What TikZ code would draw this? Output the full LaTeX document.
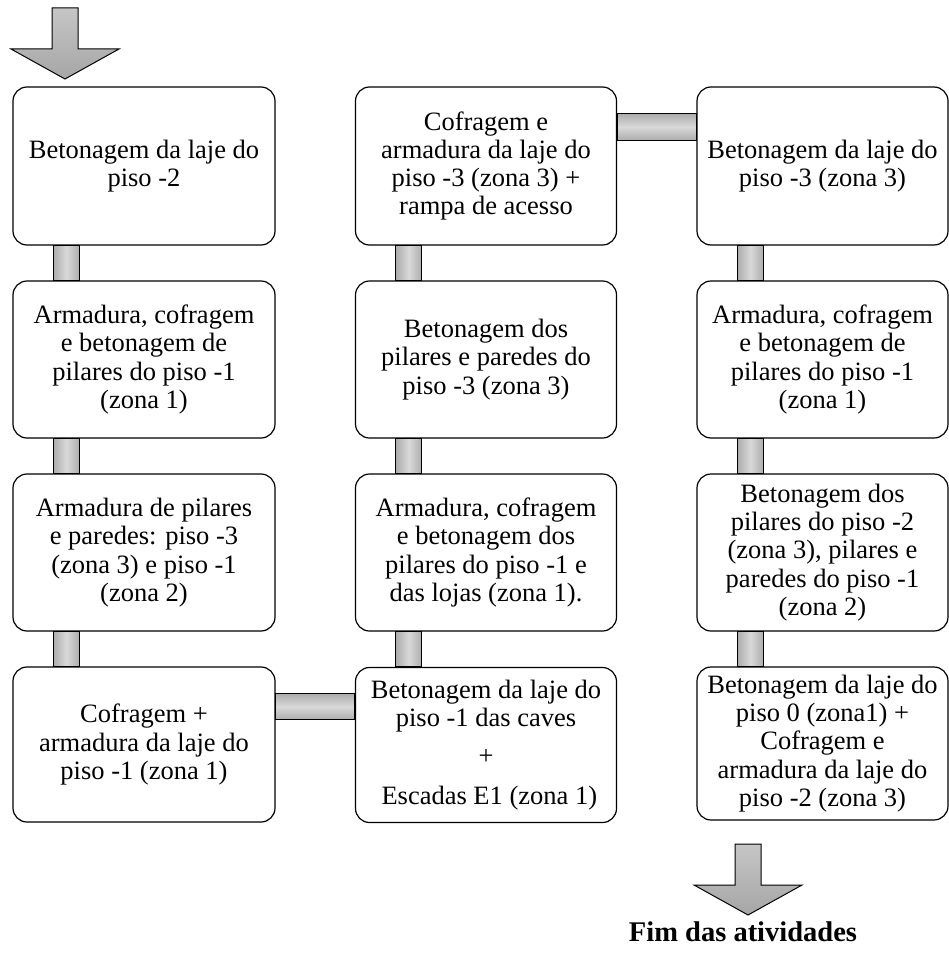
\documentclass[tikz,border=0pt]{standalone}
\usepackage{fontspec}
\setmainfont{Liberation Serif}
\tikzset{
  etapa/.style={draw, line width=1.2pt, rounded corners=14pt, fill=white,
    align=center, inner sep=0pt, minimum height=157pt,
    font=\fontsize{26.5}{28.3}\selectfont},
  barrav/.style={draw, line width=1.1pt, left color=gray!65, right color=gray!65,
    middle color=gray!30},
  barrah/.style={draw, line width=1.1pt, top color=gray!65, bottom color=gray!65,
    middle color=gray!30},
  seta/.style={draw, line width=1pt, top color=gray!45, bottom color=gray!70},
  setabloco/.pic={
    \draw[seta] (-13,-71) -- (13,-71) -- (13,-30) -- (54,-30) -- (0,0)
      -- (-54,-30) -- (-13,-30) -- cycle;
  }
}

\begin{document}
\begin{tikzpicture}[x=1pt, y=-1pt]
  \useasboundingbox (0,0) rectangle (949,958);

  % coluna 1
  \node[etapa, minimum width=262pt, minimum height=158pt] (a1) at (144,166)
    {Betonagem da laje do\\piso -2};
  \node[etapa, minimum width=262pt] (a2) at (144,359.5)
    {Armadura, cofragem\\e betonagem de\\pilares do piso -1\\(zona 1)};
  \node[etapa, minimum width=262pt] (a3) at (144,552.5)
    {Armadura de pilares\\e paredes: piso -3\\(zona 3) e piso -1\\(zona 2)};
  \node[etapa, minimum width=262pt, minimum height=155pt] (a4) at (144,744.5)
    {Cofragem +\\armadura da laje do\\piso -1 (zona 1)};

  % coluna 2
  \node[etapa, minimum width=261pt, minimum height=158pt] (b1) at (486,166)
    {Cofragem e\\armadura da laje do\\piso -3 (zona 3) +\\rampa de acesso};
  \node[etapa, minimum width=261pt] (b2) at (486,359.5)
    {Betonagem dos\\pilares e paredes do\\piso -3 (zona 3)};
  \node[etapa, minimum width=261pt] (b3) at (486,552.5)
    {Armadura, cofragem\\e betonagem dos\\pilares do piso -1 e\\das lojas (zona 1).};
  \node[etapa, minimum width=261pt, minimum height=155pt] (b4) at (486,745)
    {Betonagem da laje do\\piso -1 das caves\\[9pt]+\\[12pt]\ Escadas E1 (zona 1)};

  % coluna 3
  \node[etapa, minimum width=251pt, minimum height=158pt] (c1) at (822.5,166)
    {Betonagem da laje do\\piso -3 (zona 3)};
  \node[etapa, minimum width=251pt] (c2) at (822.5,359.5)
    {Armadura, cofragem\\e betonagem de\\pilares do piso -1\\(zona 1)};
  \node[etapa, minimum width=251pt] (c3) at (822.5,552.5)
    {Betonagem dos\\pilares do piso -2\\(zona 3), pilares e\\paredes do piso -1\\(zona 2)};
  \node[etapa, minimum width=251pt, minimum height=153pt] (c4) at (822.5,743.5)
    {Betonagem da laje do\\piso 0 (zona1) +\\Cofragem e\\armadura da laje do\\piso -2 (zona 3)};

  % ligacoes
  \foreach \a/\b in {a1/a2, a2/a3, a3/a4, b1/b2, b2/b3, b3/b4, c1/c2, c2/c3, c3/c4}
    \draw[barrav] ([xshift=41pt]\a.south west) rectangle ([xshift=67pt]\b.north west);
  \draw[barrah] ([yshift=-27pt]a4.north east) rectangle ([yshift=-53pt]b4.north west);
  \draw[barrah] ([yshift=-27pt]b1.north east) rectangle ([yshift=-54pt]c1.north west);

  % inicio e fim
  \pic at (65,79) {setabloco};
  \pic at (748,915) {setabloco};
  \node[font=\bfseries\fontsize{28.5}{30}\selectfont] (fim) at (743,932)
    {Fim das atividades};
\end{tikzpicture}
\end{document}
